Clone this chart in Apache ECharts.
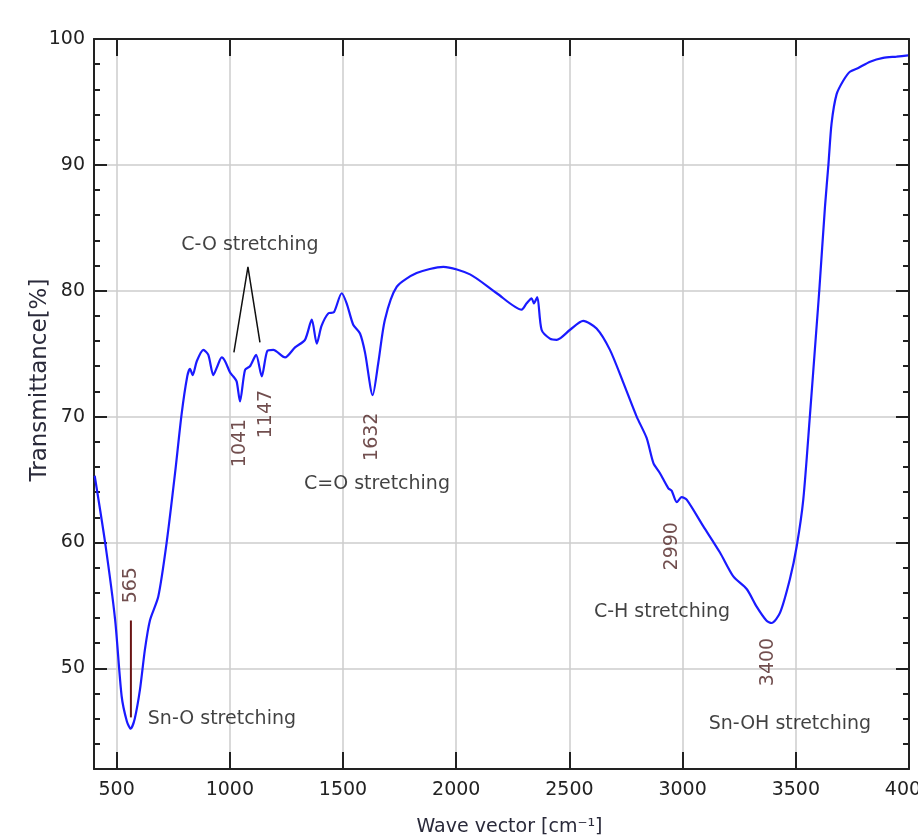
<!DOCTYPE html>
<html>
<head>
<meta charset="utf-8">
<script src="https://cdn.jsdelivr.net/npm/echarts@6/dist/echarts.min.js"></script>
<style>
  html, body { margin: 0; background: #fff; }
  #chart { width: 918px; height: 837px; }
</style>
</head>
<body>
<div id="chart"></div>
<script>
// FTIR spectrum
const wavenumber = [
  403, 449, 493, 522, 545, 562, 580, 603, 625, 647, 684, 721, 758, 787, 812, 824, 836, 854, 883, 905,
  927, 945, 964, 979, 1001, 1015, 1030, 1045, 1067, 1089, 1116, 1141, 1165, 1192, 1244, 1288, 1332, 1362, 1384, 1405,
  1435, 1460, 1494, 1516, 1545, 1575, 1597, 1631, 1656, 1685, 1737, 1825, 1943, 2061, 2179, 2289, 2311, 2333, 2343, 2358,
  2377, 2414, 2444, 2503, 2561, 2620, 2679, 2738, 2797, 2841, 2871, 2900, 2937, 2952, 2974, 2996, 3018, 3091, 3165, 3224,
  3283, 3327, 3370, 3393, 3430, 3474, 3504, 3533, 3562, 3592, 3604, 3629, 3644, 3658, 3680, 3710, 3739, 3776, 3828, 3886,
  3945, 3996
];
const transmittance = [
  65.3, 60.0, 53.9, 47.8, 45.8, 45.2, 46.0, 48.3, 51.5, 53.8, 55.7, 60.0, 65.5, 70.2, 73.2, 73.8, 73.3, 74.4, 75.3, 74.9,
  73.3, 74.0, 74.7, 74.4, 73.5, 73.2, 72.8, 71.2, 73.7, 74.0, 74.9, 73.2, 75.2, 75.3, 74.7, 75.5, 76.1, 77.7, 75.8, 77.2,
  78.2, 78.3, 79.8, 79.0, 77.3, 76.6, 75.1, 71.7, 74.3, 77.7, 80.3, 81.4, 81.9, 81.3, 79.8, 78.5, 79.0, 79.4, 79.0, 79.5,
  76.9, 76.2, 76.1, 76.9, 77.6, 77.0, 75.3, 72.7, 70.0, 68.3, 66.3, 65.5, 64.3, 64.1, 63.2, 63.6, 63.4, 61.3, 59.2, 57.3,
  56.3, 54.9, 53.8, 53.6, 54.4, 57.1, 59.7, 63.4, 70.0, 77.2, 80.1, 86.7, 90.0, 93.3, 95.6, 96.7, 97.4, 97.7, 98.2, 98.5,
  98.6, 98.7
];

const xTicks = [500, 1000, 1500, 2000, 2500, 3000, 3500, 4000];
const yTicks = [50, 60, 70, 80, 90, 100];

// peak numbers (rotated) and band names
const peakNames = ['565', '1041', '1147', '1632', '2990', '3400'];
const peakX = [563, 1045, 1158, 1628, 2953, 3377];
const peakY = [56.6, 67.9, 70.2, 68.4, 59.7, 50.5];

const bandNames = ['Sn-O stretching', 'C-O stretching', 'C=O stretching', 'C-H stretching', 'Sn-OH stretching'];
const bandX = [965, 1089, 1650, 2909, 3474];
const bandY = [46.0, 83.65, 64.6, 54.5, 45.6];

// leader lines
const coLeaderX = [1018, 1080, 1133];
const coLeaderY = [75.1, 81.9, 75.9];
const snoLeaderX = [563, 563];
const snoLeaderY = [53.8, 46.1];

const FONT = 'DejaVu Sans';
const INK = '#222';
const plain = v => String(v);

const chart = echarts.init(document.getElementById('chart'));

function majorY(pos) {
  return {
    type: 'value', position: pos, min: 42, max: 100,
    axisLine: { show: true, onZero: false, lineStyle: { color: INK, width: 2 } },
    axisTick: { show: true, inside: true, length: 13, customValues: yTicks, lineStyle: { color: INK, width: 2 } },
    axisLabel: { show: pos === 'left', customValues: yTicks, formatter: plain, margin: 9, fontSize: 19, color: INK, fontFamily: FONT },
    splitLine: { show: pos === 'left', lineStyle: { color: '#cccccc', width: 1.5 } }
  };
}
function minorY(pos) {
  return {
    type: 'value', position: pos, min: 42, max: 100, interval: 2,
    axisLine: { show: false },
    axisTick: { show: true, inside: true, length: 6, lineStyle: { color: INK, width: 2 } },
    axisLabel: { show: false },
    splitLine: { show: false }
  };
}

const leftY = majorY('left');
leftY.name = 'Transmittance[%]';
leftY.nameLocation = 'middle';
leftY.nameGap = 42;
leftY.nameMoveOverlap = false;
leftY.nameTextStyle = { fontSize: 23, color: '#2a2a3a', fontFamily: FONT, padding: [0, 0, 0, 48] };

chart.setOption({
  animation: false,
  backgroundColor: '#fff',
  grid: { left: 94, right: 9, top: 39, bottom: 68, outerBoundsMode: 'none', containLabel: false },
  xAxis: [
    {
      type: 'value', position: 'bottom', min: 400, max: 4000,
      axisLine: { show: true, onZero: false, lineStyle: { color: INK, width: 2 } },
      axisTick: { show: true, inside: true, length: 17, customValues: xTicks, lineStyle: { color: INK, width: 2 } },
      axisLabel: { customValues: xTicks, formatter: plain, margin: 12, fontSize: 19, color: INK, fontFamily: FONT },
      splitLine: { show: true, lineStyle: { color: '#cccccc', width: 1.5 } },
      name: 'Wave vector [cm\u207B\u00B9]', nameLocation: 'middle', nameGap: 49, nameMoveOverlap: false,
      nameTextStyle: { fontSize: 19, color: '#2a2a3a', fontFamily: FONT, padding: [0, 0, 0, 16] }
    },
    {
      type: 'value', position: 'top', min: 400, max: 4000,
      axisLine: { show: true, onZero: false, lineStyle: { color: INK, width: 2 } },
      axisTick: { show: true, inside: true, length: 17, customValues: xTicks, lineStyle: { color: INK, width: 2 } },
      axisLabel: { show: false },
      splitLine: { show: false }
    }
  ],
  yAxis: [leftY, majorY('right'), minorY('left'), minorY('right')],
  series: [
    {
      type: 'line',
      data: wavenumber.map((x, i) => [x, transmittance[i]]),
      showSymbol: false,
      smooth: 0.25,
      lineStyle: { color: '#1a1aff', width: 2.2 },
      z: 3
    },
    {
      type: 'line',
      data: coLeaderX.map((x, i) => [x, coLeaderY[i]]),
      showSymbol: false,
      lineStyle: { color: '#111', width: 1.5 },
      z: 4
    },
    {
      type: 'line',
      data: snoLeaderX.map((x, i) => [x, snoLeaderY[i]]),
      showSymbol: false,
      lineStyle: { color: '#6a1414', width: 2 },
      z: 4
    },
    {
      type: 'scatter',
      symbolSize: 1,
      itemStyle: { color: 'transparent' },
      data: peakNames.map((n, i) => ({ name: n, value: [peakX[i], peakY[i]] })),
      label: {
        show: true, position: 'inside', formatter: '{b}', rotate: 90,
        fontSize: 19, color: '#4e2222', fontFamily: FONT
      },
      z: 5
    },
    {
      type: 'scatter',
      symbolSize: 1,
      itemStyle: { color: 'transparent' },
      data: bandNames.map((n, i) => ({ name: n, value: [bandX[i], bandY[i]] })),
      label: {
        show: true, position: 'inside', formatter: '{b}',
        fontSize: 19, color: '#111', fontFamily: FONT
      },
      z: 5
    }
  ]
});
</script>
</body>
</html>
